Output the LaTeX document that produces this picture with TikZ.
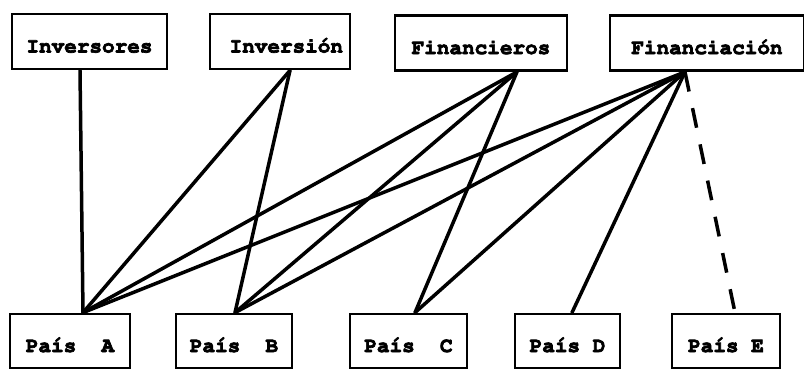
\documentclass[tikz,border=0pt]{standalone}
\newcommand{\boxfont}{\fontencoding{T1}\fontfamily{pcr}\fontseries{b}\fontsize{21}{25}\selectfont}
\newcommand{\heavy}[1]{\special{pdf:literal q 2 Tr 0.7 w}#1\special{pdf:literal Q}}
\begin{document}
\begin{tikzpicture}[x=1pt, y=-1pt, line width=3.5pt, line cap=round,
  box node/.style={draw, rectangle, line width=2.8pt, inner sep=0pt, text height=22pt, text depth=0pt, font=\boxfont}]
\useasboundingbox (0,0) rectangle (804,368);
\begin{scope}[every node/.style={box node, minimum height=55pt}]
\node[minimum width=155pt] (inversores) at (89.5,41.5) {\heavy{Inversores}};
\node[minimum width=140pt] (inversion) at (280,41.5) {\heavy{~Inversión}};
\node[minimum width=172pt] (financieros) at (481,43) {\heavy{Financieros}};
\node[minimum width=194pt] (financiacion) at (707,43) {\heavy{Financiación}};
\end{scope}
\begin{scope}[every node/.style={box node, minimum height=54pt}]
\node[minimum width=120pt] (paisA) at (70,341) {\heavy{País~~A}};
\node[minimum width=116pt] (paisB) at (234,341) {\heavy{País~~B}};
\node[minimum width=117pt] (paisC) at (408.5,341) {\heavy{País~~C}};
\node[minimum width=105pt] (paisD) at (567.5,341) {\heavy{País D}};
\node[minimum width=108pt] (paisE) at (726,341) {\heavy{País E}};
\end{scope}
% where the lines meet the boxes
\coordinate (inversores-out) at ([xshift=-9.5pt]inversores.south);
\coordinate (inversion-out) at ([xshift=10pt]inversion.south);
\coordinate (financieros-out) at ([xshift=36pt]financieros.south);
\coordinate (financiacion-out) at ([xshift=-22pt]financiacion.south);
\coordinate (paisA-in) at ([xshift=13pt]paisA.north);
\coordinate (paisB-in) at ([xshift=1pt]paisB.north);
\coordinate (paisC-in) at ([xshift=6.5pt]paisC.north);
\coordinate (paisD-in) at ([xshift=4.5pt]paisD.north);
\coordinate (paisE-in) at ([xshift=9pt]paisE.north);
\begin{scope}
\draw (inversores-out) edge (paisA-in);
\draw (inversion-out) edge (paisA-in);
\draw (inversion-out) edge (paisB-in);
\draw (financieros-out) edge (paisA-in);
\draw (financieros-out) edge (paisB-in);
\draw (financieros-out) edge (paisC-in);
\draw (financiacion-out) edge (paisA-in);
\draw (financiacion-out) edge (paisB-in);
\draw (financiacion-out) edge (paisC-in);
\draw (financiacion-out) edge (paisD-in);
\draw[line cap=butt, dash pattern=on 20pt off 17pt] (financiacion-out) edge (paisE-in);
\end{scope}
\end{tikzpicture}
\end{document}
